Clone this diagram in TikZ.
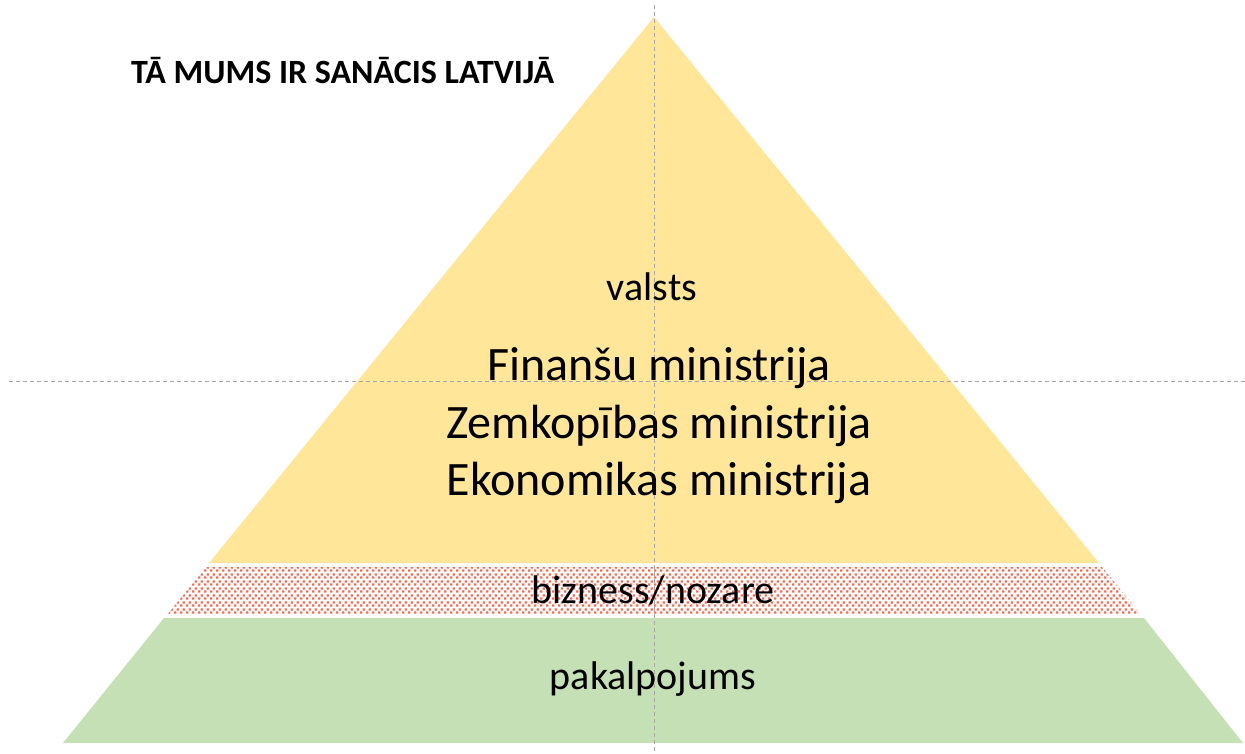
\documentclass[tikz,border=0pt]{standalone}
\usepackage{fontspec}
\setmainfont{Carlito}
\usetikzlibrary{patterns}
\definecolor{gold}{HTML}{FFE699}
\definecolor{leaf}{HTML}{C5E0B4}
\definecolor{dotred}{HTML}{F36A55}
\definecolor{guide}{HTML}{A6A6A6}
\pgfdeclarepatternformonly{bigdots}{\pgfpointorigin}{\pgfpoint{6pt}{7pt}}{\pgfpoint{6pt}{7pt}}{%
  \pgfpathrectangle{\pgfpoint{0.2pt}{0.3pt}}{\pgfpoint{2.6pt}{2.6pt}}%
  \pgfpathrectangle{\pgfpoint{3.2pt}{3.8pt}}{\pgfpoint{2.6pt}{2.6pt}}%
  \pgfusepath{fill}}
\begin{document}
\begin{tikzpicture}[x=1pt,y=-1pt,
  band/.style={draw=none},
  guideline/.style={draw=guide,line width=0.8pt,dash pattern=on 4pt off 3pt},
  lbl/.style={inner sep=0pt,anchor=center,text=black}]
\useasboundingbox (0,0) rectangle (1245,754);
% bands
\fill[gold,band] (654,17) -- (1099,563) -- (209,563) -- cycle;
\fill[pattern=bigdots,pattern color=dotred,band] (206,567) -- (1102,567) -- (1141,615) -- (167,615) -- cycle;
\fill[leaf,band] (164,618) -- (1144,618) -- (1243,743) -- (63,743) -- cycle;
% guides
\coordinate (vt) at (654,5);
\coordinate (vb) at (654,754);
\coordinate (hl) at (9,381);
\coordinate (hr) at (1245,381);
\draw[guideline] (vt) -- (vb);
\draw[guideline] (hl) -- (hr);
% texts
\node[lbl,anchor=west,font=\bfseries\fontsize{34}{40}\selectfont] (title) at (131,71) {TĀ MUMS IR SANĀCIS LATVIJĀ};
\node[lbl,font=\fontsize{40}{48}\selectfont] (valsts) at (652,287) {valsts};
\node[lbl,font=\fontsize{48}{57.5}\selectfont,align=center] (min) at (659,426) {Finanšu ministrija\\Zemkopības ministrija\\Ekonomikas ministrija};
\node[lbl,font=\fontsize{40}{48}\selectfont] (biz) at (653,590) {bizness/nozare};
\node[lbl,font=\fontsize{40}{48}\selectfont] (pak) at (653,679) {pakalpojums};
\end{tikzpicture}
\end{document}
